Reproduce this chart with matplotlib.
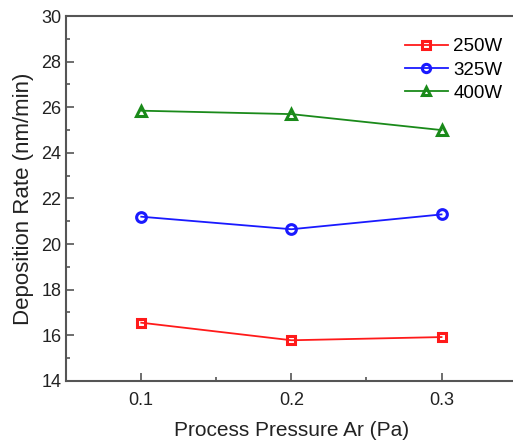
import matplotlib
matplotlib.use('Agg')
import matplotlib.pyplot as plt
from matplotlib.ticker import MultipleLocator

plt.rcParams['font.family'] = ['Liberation Sans', 'DejaVu Sans']

pressure = [0.1, 0.2, 0.3]
rate_250 = [16.55, 15.78, 15.92]
rate_325 = [21.2, 20.65, 21.3]
rate_400 = [25.85, 25.7, 25.0]

fig = plt.figure(figsize=(5.13, 4.47), dpi=100)
ax = fig.add_axes([0.129, 0.148, 0.878, 0.816])

ax.plot(pressure, rate_250, color='#ff1a1a', marker='s', ms=6, mfc='none', mew=2.2, lw=1.3, label='250W')
ax.plot(pressure, rate_325, color='#1a1aff', marker='o', ms=7, mfc='none', mew=2.2, lw=1.3, label='325W')
ax.plot(pressure, rate_400, color='#1a8a1a', marker='^', ms=7.5, mfc='none', mew=2.2, lw=1.3, label='400W')

ax.set_xlim(0.05, 0.35)
ax.set_ylim(14, 30)
ax.xaxis.set_major_locator(MultipleLocator(0.1))
ax.xaxis.set_minor_locator(MultipleLocator(0.05))
ax.yaxis.set_major_locator(MultipleLocator(2))
ax.yaxis.set_minor_locator(MultipleLocator(1))

for s in ax.spines.values():
    s.set_color('#555555')
    s.set_linewidth(1.5)
ax.spines['right'].set_visible(False)

ax.tick_params(which='both', direction='in', colors='#555555', labelcolor='#222222', labelsize=13)
ax.tick_params(which='major', length=6, width=1.2)
ax.tick_params(which='minor', length=3, width=1.2)
ax.tick_params(axis='x', pad=8)

ax.set_xlabel('Process Pressure Ar (Pa)', fontsize=15, color='#222222', labelpad=9)
ax.set_ylabel('Deposition Rate (nm/min)', fontsize=16, color='#222222', labelpad=5)

ax.legend(loc='upper right', frameon=False, fontsize=13.5, handlelength=2.3, labelspacing=0.32,
          borderaxespad=0.3, bbox_to_anchor=(0.998, 0.975), handletextpad=0.3, markerscale=0.85)

fig.savefig('out.png', dpi=100)
